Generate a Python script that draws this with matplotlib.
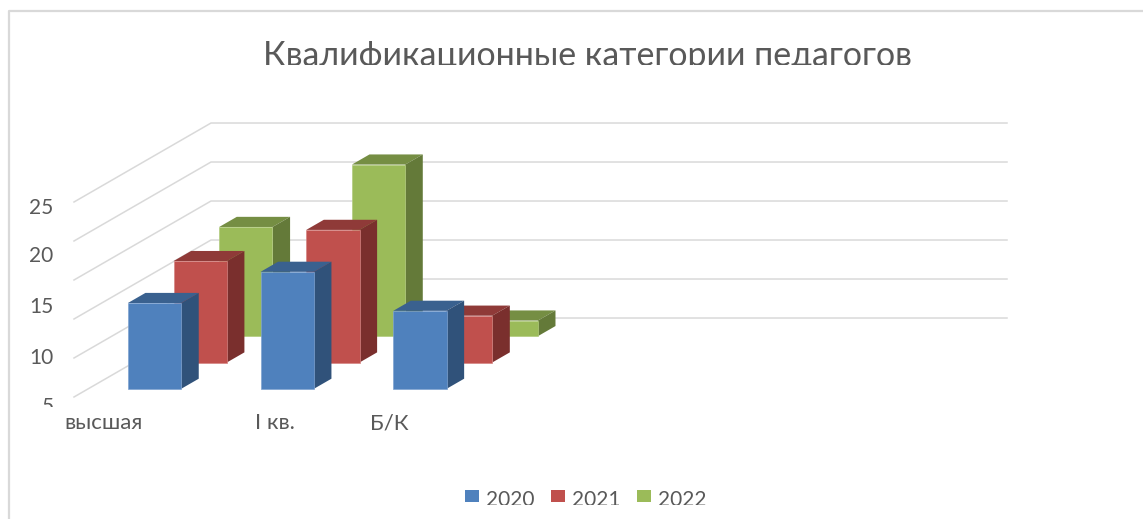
import matplotlib
matplotlib.use('Agg')
import matplotlib.pyplot as plt
from matplotlib.patches import Polygon, Patch
from matplotlib.transforms import Bbox, TransformedBbox

plt.rcParams['font.family'] = ['Lato', 'DejaVu Sans']

# данные с картинки
years = ['2020', '2021', '2022']
categories = ['высшая', 'I кв.', 'Б/К']
values_2020 = [16, 20, 15]
values_2021 = [18, 22, 11]
values_2022 = [19, 27, 7]
y_ticks = [5, 10, 15, 20, 25, 30]
y_labels = [5, 10, 15, 20, 25]

front_colors = ['#4F81BD', '#C0504D', '#9BBB59']
top_colors = ['#3A618F', '#8F3A38', '#758E43']
side_colors = ['#30527A', '#7A2F2D', '#647A39']
edge_colors = ['#7FA3D1', '#D58583', '#B2CC7E']
text_color = '#595959'
grid_color = '#D9D9D9'

# косая проекция: x0, y0 - передний левый угол пола
x0, y0 = 74, 397
row_dx, row_dy = 45.67, -26.33
slot_w = 132.7
px_per_unit = 7.8
bar_w = 53.3
bar_depth = 0.385
depth_gap = 0.31
wall_w = 796


def project(x, depth, value):
    sx = x0 + x + depth * row_dx
    sy = y0 + depth * row_dy - (value - y_ticks[0]) * px_per_unit
    return sx, sy


fig = plt.figure(figsize=(11.43, 5.19), dpi=100)
ax = fig.add_axes([0, 0, 1, 1])
ax.set_xlim(0, 1143)
ax.set_ylim(519, 0)
ax.axis('off')

# рамка диаграммы
ax.plot([8.5, 8.5, 1143], [519, 10.5, 10.5], color=grid_color, lw=1.6)

# сетка на стенках
for v in y_ticks:
    a = project(0, 0, v)
    b = project(0, 3, v)
    c = project(wall_w, 3, v)
    ax.plot([a[0], b[0], c[0]], [a[1], b[1], c[1]], color=grid_color, lw=1.1)

# столбцы, от задних к передним
series = [values_2020, values_2021, values_2022]
for row in [2, 1, 0]:
    for i, val in enumerate(series[row]):
        left = i * slot_w + (slot_w - bar_w) / 2
        right = left + bar_w
        d1 = row + depth_gap
        d2 = d1 + bar_depth
        base = y_ticks[0]
        top = [project(left, d1, val), project(right, d1, val),
               project(right, d2, val), project(left, d2, val)]
        side = [project(right, d1, base), project(right, d2, base),
                project(right, d2, val), project(right, d1, val)]
        front = [project(left, d1, base), project(right, d1, base),
                 project(right, d1, val), project(left, d1, val)]
        ax.add_patch(Polygon(top, closed=True, fc=top_colors[row], ec='none', zorder=5 - row))
        ax.add_patch(Polygon(side, closed=True, fc=side_colors[row], ec='none', zorder=5 - row))
        ax.add_patch(Polygon(front, closed=True, fc=front_colors[row], ec=edge_colors[row],
                             lw=0.5, zorder=5 - row))

# заголовок обрезан снизу, как на картинке
title = ax.text(587, 65.5, 'Квалификационные категории педагогов', ha='center', va='baseline',
                fontsize=24.4, color=text_color)
title.set_clip_box(TransformedBbox(Bbox([[0, 20], [1143, 65]]), ax.transData))
title.set_clip_on(True)

# подписи оси значений
label_y = [407, 358, 307, 256, 208]
for v, ly in zip(y_labels, label_y):
    t = ax.text(53.5, ly, str(v), ha='right', va='center', fontsize=15, color=text_color)
    t.set_clip_box(TransformedBbox(Bbox([[0, 190], [100, 407]]), ax.transData))
    t.set_clip_on(True)

# подписи категорий
cat_x = [103.5, 275, 389]
for name, cx in zip(categories, cat_x):
    ax.text(cx, 423, name, ha='center', va='center', fontsize=16, color=text_color)

# легенда, подписи тоже обрезаны снизу
handles = [Patch(fc=c, ec='none', label=y) for c, y in zip(front_colors, years)]
leg = ax.legend(handles=handles, loc='center', bbox_to_anchor=(586, 497.5), bbox_transform=ax.transData,
                ncol=3, frameon=False, fontsize=15, handlelength=0.67, handleheight=0.5,
                handletextpad=0.33, columnspacing=0.8, labelcolor=text_color,
                borderpad=0, borderaxespad=0)
for t in leg.get_texts():
    t.set_y(-3)
    t.set_clip_box(TransformedBbox(Bbox([[400, 480], [800, 505]]), ax.transData))
    t.set_clip_on(True)

fig.savefig('out.png', dpi=100)
